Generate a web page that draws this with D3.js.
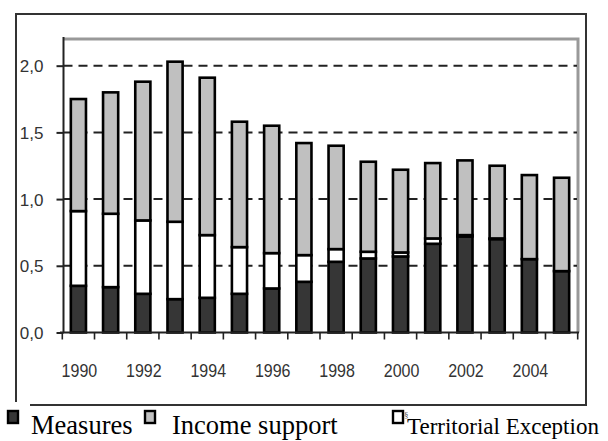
<!DOCTYPE html>
<html>
<head>
<meta charset="utf-8">
<script src="https://cdn.jsdelivr.net/npm/d3@7"></script>
<style>
  body { margin:0; background:#fff; }
  svg { display:block; }
</style>
</head>
<body>
<script>
// data
var years = [1990,1991,1992,1993,1994,1995,1996,1997,1998,1999,2000,2001,2002,2003,2004,2005];
var measures    = [0.35,0.34,0.29,0.25,0.26,0.29,0.33,0.38,0.53,0.555,0.57,0.665,0.72,0.70,0.55,0.46];
var territorial = [0.56,0.55,0.55,0.58,0.47,0.35,0.265,0.20,0.095,0.05,0.03,0.04,0.01,0.005,0,0];
var income      = [0.84,0.91,1.04,1.20,1.18,0.94,0.955,0.84,0.775,0.675,0.62,0.565,0.56,0.545,0.63,0.70];
var yTicks = [0,0.5,1.0,1.5,2.0];
var xLabels = [1990,1992,1994,1996,1998,2000,2002,2004];
var legendNames = ["Measures","Income support","Territorial Exception"];

var W = 608, H = 441;
var SVG = d3.select("body").append("svg").attr("width",W).attr("height",H);

var X = d3.scaleBand().domain(years).range([62.3,577.7]).paddingInner(0.53).paddingOuter(0.265);
var Y = d3.scaleLinear().domain([0,2.2]).range([332.5,39]);
var fmt = function(v){ return d3.format(".1f")(v).replace(".",","); };

var rows = years.map(function(y,i){
  return {year:y, measures:measures[i], territorial:territorial[i], income:income[i]};
});
var keys = ["measures","territorial","income"];
var fills = {measures:"#363636", territorial:"#ffffff", income:"#c0c0c0"};
var series = d3.stack().keys(keys)(rows);

// outer frame
var FRAME = SVG.append("g").attr("stroke","#333").attr("stroke-width",2);
FRAME.append("line").attr("x1",16).attr("y1",14).attr("x2",16).attr("y2",402);
FRAME.append("line").attr("x1",15).attr("y1",14).attr("x2",587).attr("y2",14);
FRAME.append("line").attr("x1",586).attr("y1",13).attr("x2",586).attr("y2",406);
FRAME.append("line").attr("x1",30).attr("y1",405).attr("x2",587).attr("y2",405);

// plot box (gray top / right)
SVG.append("path")
   .attr("d","M63.5," + Y(2.2) + "H578V" + Y(0))
   .attr("fill","none").attr("stroke","#999").attr("stroke-width",3);

// dashed gridlines
SVG.append("g").selectAll("line").data(yTicks.filter(function(d){return d>0;})).enter()
   .append("line")
   .attr("x1",63.5).attr("x2",577)
   .attr("y1",function(d){return Y(d);}).attr("y2",function(d){return Y(d);})
   .attr("stroke","#222").attr("stroke-width",2).attr("stroke-dasharray","9,6");

// y axis
var yAxis = d3.axisLeft(Y).tickValues(yTicks).tickSize(7).tickFormat(fmt);
var YG = SVG.append("g").attr("transform","translate(63.5,0)").call(yAxis);
YG.select(".domain").remove();
YG.selectAll(".tick line").attr("stroke","#222").attr("stroke-width",2);
YG.selectAll(".tick text").attr("x",-20).attr("dy","0.36em")
  .attr("font-family","Liberation Sans, Arial").attr("font-size",17).attr("fill","#333");
SVG.append("line").attr("x1",63.5).attr("x2",63.5).attr("y1",37).attr("y2",Y(0))
   .attr("stroke","#222").attr("stroke-width",2);

// bars
var LAYERS = SVG.append("g").selectAll("g").data(series).enter().append("g")
   .attr("fill",function(d){return fills[d.key];});
LAYERS.selectAll("rect").data(function(d){return d;}).enter().append("rect")
   .attr("x",function(d){return X(d.data.year);})
   .attr("width",X.bandwidth())
   .attr("y",function(d){return Y(d[1]);})
   .attr("height",function(d){return Y(d[0])-Y(d[1]);})
   .attr("stroke","#000").attr("stroke-width",2.6);

// x axis line + ticks at band edges
var step = X.step();
SVG.append("line").attr("x1",60).attr("x2",579).attr("y1",Y(0)).attr("y2",Y(0))
   .attr("stroke","#222").attr("stroke-width",2);
SVG.append("g").selectAll("line").data(d3.range(years.length+1)).enter().append("line")
   .attr("x1",function(i){return X.range()[0]+i*step;})
   .attr("x2",function(i){return X.range()[0]+i*step;})
   .attr("y1",Y(0)).attr("y2",Y(0)+7)
   .attr("stroke","#222").attr("stroke-width",1.6);

SVG.append("g").selectAll("text").data(xLabels).enter().append("text")
   .attr("transform",function(d){return "translate(" + (X(d)+X.bandwidth()/2+1) + ",377) scale(1,1.2)";})
   .attr("text-anchor","middle")
   .attr("font-family","Liberation Sans, Arial").attr("font-size",16).attr("fill","#333")
   .text(function(d){return d;});

// legend
var LEG = SVG.append("g");
var legFills = ["#363636","#c0c0c0","#ffffff"];
var legBoxX = [8,145,393];
var legTextX = [31,172,407];
var legSize = [26.5,26.5,23];
LEG.selectAll("rect").data(legendNames).enter().append("rect")
   .attr("x",function(d,i){return legBoxX[i];}).attr("y",411)
   .attr("width",10).attr("height",12)
   .attr("fill",function(d,i){return legFills[i];})
   .attr("stroke","#000").attr("stroke-width",2.4);
LEG.selectAll("text").data(legendNames).enter().append("text")
   .attr("x",function(d,i){return legTextX[i];}).attr("y",434)
   .attr("font-family","Liberation Serif, Times New Roman")
   .attr("font-size",function(d,i){return legSize[i];}).attr("fill","#000")
   .text(function(d){return d;});
LEG.append("text").attr("x",404).attr("y",418)
   .attr("font-family","Liberation Serif").attr("font-size",9).attr("fill","#555").text("§");
</script>
</body>
</html>
